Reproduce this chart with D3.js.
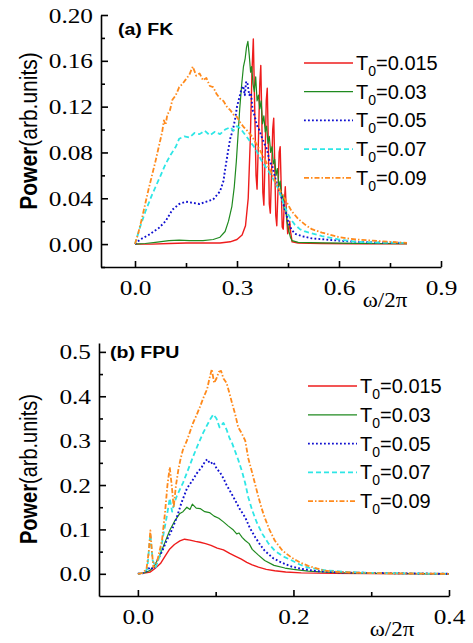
<!DOCTYPE html>
<html>
<head>
<meta charset="utf-8">
<script src="https://cdn.jsdelivr.net/npm/d3@7"></script>
<style>
  body { margin: 0; background: #fff; }
  svg { display: block; }
  .axis path, .axis line { stroke: #000; stroke-width: 1.6; }
  .curve { fill: none; stroke-linejoin: round; }
</style>
</head>
<body>
<div id="chart"></div>
<script>
// ---- data: [omega/2pi, power] ----
const legendLabels = ["0.015", "0.03", "0.05", "0.07", "0.09"];

const fkX = [0.0, 0.3, 0.6, 0.9];
const fkXMinor = [0.15, 0.45, 0.75];
const fkY = [0.00, 0.04, 0.08, 0.12, 0.16, 0.20];
const fkYMinor = [-0.02, 0.02, 0.06, 0.10, 0.14, 0.18];

const fpuX = [0.0, 0.2, 0.4];
const fpuXMinor = [0.1, 0.3];
const fpuY = [0.0, 0.1, 0.2, 0.3, 0.4, 0.5];
const fpuYMinor = [0.05, 0.15, 0.25, 0.35, 0.45];

const fk015 = [[0,0],[0.05,0],[0.1,0.0005],[0.15,0.001],[0.2,0.001],[0.25,0.001],[0.28,0.002],[0.30,0.004],[0.315,0.008],
  [0.325,0.016],[0.333,0.04],[0.339,0.09],[0.344,0.15],[0.348,0.179],[0.352,0.12],[0.356,0.06],[0.359,0.048],[0.363,0.09],
  [0.367,0.14],[0.370,0.156],[0.373,0.11],[0.376,0.045],[0.379,0.034],[0.383,0.08],[0.386,0.125],[0.389,0.136],[0.392,0.09],
  [0.395,0.035],[0.398,0.027],[0.402,0.065],[0.405,0.1],[0.408,0.11],[0.411,0.07],[0.414,0.025],[0.417,0.016],[0.421,0.05],
  [0.424,0.08],[0.427,0.085],[0.430,0.05],[0.433,0.015],[0.436,0.013],[0.439,0.035],[0.442,0.05],[0.445,0.03],[0.449,0.009],
  [0.452,0.012],[0.455,0.02],[0.458,0.01],[0.462,0.002],[0.48,0.001],[0.55,0.0005],[0.65,0.0003],[0.8,0.0002]];

const fk03 = [[0,0],[0.03,0.0005],[0.06,0.0015],[0.1,0.003],[0.13,0.0035],[0.16,0.003],[0.2,0.003],[0.23,0.004],[0.25,0.006],
  [0.265,0.011],[0.275,0.02],[0.285,0.033],[0.292,0.05],[0.298,0.072],[0.303,0.095],[0.308,0.118],[0.314,0.14],[0.319,0.155],
  [0.324,0.162],[0.328,0.172],[0.332,0.177],[0.336,0.165],[0.340,0.15],[0.343,0.155],[0.347,0.14],[0.351,0.133],[0.355,0.146],
  [0.359,0.125],[0.363,0.13],[0.367,0.118],[0.371,0.125],[0.375,0.105],[0.379,0.112],[0.383,0.098],[0.387,0.103],[0.391,0.088],
  [0.395,0.094],[0.399,0.08],[0.403,0.085],[0.407,0.07],[0.411,0.074],[0.415,0.06],[0.419,0.066],[0.423,0.05],[0.427,0.055],
  [0.431,0.04],[0.435,0.043],[0.439,0.03],[0.443,0.032],[0.447,0.02],[0.452,0.012],[0.457,0.006],[0.462,0.003],[0.48,0.0015],
  [0.55,0.001],[0.65,0.0006],[0.8,0.0003]];

const fk05 = [[0,0],[0.015,0.004],[0.04,0.008],[0.07,0.014],[0.09,0.02],[0.11,0.03],[0.13,0.035],[0.15,0.037],[0.17,0.036],
  [0.19,0.035],[0.21,0.037],[0.23,0.039],[0.25,0.046],[0.26,0.055],[0.265,0.065],[0.272,0.078],[0.28,0.092],[0.288,0.1],
  [0.295,0.11],[0.30,0.12],[0.307,0.128],[0.313,0.135],[0.318,0.138],[0.323,0.13],[0.327,0.142],[0.331,0.14],[0.336,0.13],
  [0.341,0.132],[0.346,0.117],[0.352,0.112],[0.358,0.104],[0.365,0.1],[0.372,0.094],[0.38,0.088],[0.388,0.083],[0.396,0.072],
  [0.404,0.068],[0.412,0.058],[0.42,0.05],[0.428,0.044],[0.436,0.035],[0.444,0.027],[0.452,0.018],[0.46,0.013],[0.47,0.009],
  [0.49,0.007],[0.52,0.005],[0.56,0.004],[0.6,0.003],[0.65,0.002],[0.7,0.0015],[0.8,0.001]];

const fk07 = [[0,0],[0.015,0.015],[0.03,0.028],[0.05,0.043],[0.074,0.059],[0.09,0.07],[0.105,0.078],[0.12,0.085],[0.13,0.092],
  [0.145,0.094],[0.16,0.093],[0.175,0.097],[0.19,0.096],[0.205,0.099],[0.22,0.095],[0.235,0.098],[0.25,0.096],[0.265,0.1],
  [0.28,0.102],[0.29,0.099],[0.3,0.103],[0.31,0.101],[0.32,0.097],[0.33,0.093],[0.34,0.089],[0.35,0.085],[0.36,0.08],
  [0.37,0.074],[0.38,0.069],[0.39,0.065],[0.40,0.06],[0.41,0.055],[0.42,0.049],[0.43,0.041],[0.44,0.033],[0.45,0.026],
  [0.46,0.021],[0.47,0.017],[0.485,0.013],[0.5,0.011],[0.55,0.007],[0.6,0.004],[0.65,0.002],[0.7,0.0015],[0.8,0.001]];

const fk09 = [[0,0],[0.01,0.01],[0.02,0.022],[0.03,0.035],[0.04,0.048],[0.05,0.06],[0.06,0.072],[0.07,0.085],[0.08,0.098],
  [0.085,0.108],[0.09,0.104],[0.095,0.113],[0.103,0.117],[0.11,0.126],[0.12,0.13],[0.13,0.137],[0.14,0.14],[0.15,0.144],
  [0.16,0.148],[0.17,0.155],[0.18,0.147],[0.19,0.149],[0.2,0.143],[0.21,0.145],[0.22,0.138],[0.23,0.137],[0.24,0.131],
  [0.25,0.127],[0.26,0.125],[0.27,0.12],[0.28,0.117],[0.29,0.113],[0.3,0.111],[0.31,0.106],[0.32,0.102],[0.33,0.099],
  [0.344,0.094],[0.36,0.086],[0.38,0.075],[0.4,0.063],[0.42,0.05],[0.44,0.04],[0.46,0.029],[0.48,0.022],[0.5,0.017],
  [0.52,0.013],[0.55,0.01],[0.6,0.006],[0.65,0.004],[0.7,0.003],[0.75,0.002],[0.8,0.001]];

const fpu015 = [[0,0],[0.005,0.001],[0.01,0.002],[0.016,0.004],[0.022,0.012],[0.029,0.023],[0.035,0.04],[0.041,0.056],
  [0.047,0.066],[0.054,0.074],[0.06,0.078],[0.067,0.076],[0.074,0.073],[0.08,0.071],[0.087,0.068],[0.094,0.064],[0.102,0.058],
  [0.11,0.054],[0.118,0.046],[0.125,0.04],[0.133,0.033],[0.14,0.026],[0.147,0.02],[0.155,0.015],[0.165,0.01],[0.176,0.007],
  [0.19,0.004],[0.21,0.002],[0.25,0.001],[0.3,0.0005],[0.4,0]];

const fpu03 = [[0,0],[0.005,0.001],[0.01,0.003],[0.016,0.008],[0.022,0.02],[0.029,0.045],[0.035,0.072],[0.041,0.098],
  [0.047,0.118],[0.054,0.136],[0.058,0.14],[0.063,0.15],[0.067,0.145],[0.07,0.157],[0.075,0.148],[0.08,0.147],[0.086,0.14],
  [0.092,0.138],[0.098,0.13],[0.104,0.125],[0.11,0.117],[0.116,0.108],[0.122,0.1],[0.127,0.09],[0.13,0.092],[0.134,0.082],
  [0.138,0.075],[0.143,0.068],[0.147,0.055],[0.155,0.042],[0.163,0.03],[0.175,0.019],[0.189,0.013],[0.2,0.01],[0.219,0.006],
  [0.25,0.003],[0.3,0.001],[0.4,0]];

const fpu05 = [[0,0],[0.008,0.002],[0.016,0.015],[0.02,0.01],[0.025,0.03],[0.031,0.05],[0.037,0.075],[0.044,0.1],[0.05,0.127],
  [0.056,0.16],[0.063,0.192],[0.07,0.21],[0.076,0.227],[0.082,0.24],[0.086,0.252],[0.089,0.258],[0.093,0.248],[0.097,0.252],
  [0.101,0.238],[0.106,0.227],[0.11,0.215],[0.114,0.2],[0.119,0.185],[0.125,0.166],[0.131,0.146],[0.138,0.127],[0.144,0.103],
  [0.151,0.082],[0.157,0.066],[0.163,0.052],[0.174,0.035],[0.185,0.025],[0.198,0.016],[0.211,0.011],[0.23,0.006],[0.26,0.003],
  [0.3,0.002],[0.35,0.001],[0.4,0]];

const fpu07 = [[0,0],[0.006,0.002],[0.012,0.01],[0.016,0.09],[0.019,0.03],[0.023,0.015],[0.028,0.04],[0.033,0.09],[0.037,0.128],
  [0.041,0.17],[0.044,0.14],[0.047,0.16],[0.05,0.175],[0.054,0.19],[0.058,0.205],[0.064,0.232],[0.071,0.264],[0.077,0.29],
  [0.084,0.318],[0.089,0.335],[0.093,0.348],[0.097,0.359],[0.101,0.35],[0.105,0.33],[0.11,0.34],[0.114,0.325],[0.118,0.305],
  [0.121,0.295],[0.125,0.276],[0.129,0.257],[0.134,0.23],[0.138,0.204],[0.142,0.172],[0.147,0.143],[0.153,0.115],[0.16,0.09],
  [0.168,0.068],[0.176,0.052],[0.187,0.039],[0.198,0.03],[0.208,0.021],[0.219,0.014],[0.24,0.008],[0.27,0.004],[0.3,0.002],
  [0.35,0.001],[0.4,0]];

const fpu09 = [[0,0],[0.006,0.002],[0.011,0.01],[0.014,0.05],[0.016,0.098],[0.018,0.05],[0.02,0.014],[0.025,0.03],[0.031,0.075],
  [0.035,0.14],[0.038,0.2],[0.041,0.24],[0.044,0.19],[0.046,0.15],[0.049,0.2],[0.052,0.234],[0.055,0.26],[0.058,0.28],
  [0.063,0.3],[0.067,0.32],[0.071,0.34],[0.076,0.36],[0.08,0.377],[0.085,0.4],[0.089,0.416],[0.092,0.44],[0.095,0.461],
  [0.098,0.43],[0.101,0.44],[0.104,0.455],[0.107,0.457],[0.11,0.44],[0.114,0.43],[0.118,0.405],[0.121,0.385],[0.125,0.36],
  [0.129,0.33],[0.133,0.318],[0.138,0.3],[0.142,0.26],[0.147,0.227],[0.151,0.2],[0.155,0.173],[0.159,0.148],[0.163,0.127],
  [0.169,0.1],[0.176,0.075],[0.186,0.052],[0.198,0.036],[0.209,0.025],[0.219,0.018],[0.23,0.012],[0.24,0.007],[0.26,0.004],
  [0.29,0.002],[0.33,0.001],[0.4,0]];

// line styles per temperature
const styles = [
  { color: "#ee1c1c", dash: null, width: 1.4 },
  { color: "#1f8a1f", dash: null, width: 1.2 },
  { color: "#1010d0", dash: "1.8,2.2", width: 1.9 },
  { color: "#2ee6e6", dash: "5,3", width: 1.8 },
  { color: "#ff8a1c", dash: "5,2,1.5,2", width: 1.8 }
];

const serif = "'Liberation Serif', 'Times New Roman', serif";
const sans = "'Liberation Sans', Arial, sans-serif";

const svg = d3.select("#chart").append("svg")
  .attr("width", 473)
  .attr("height", 643);

const stretch = 1.15;

function drawPanel(cfg) {
  const x = d3.scaleLinear().domain(cfg.xDomain).range(cfg.xRange);
  const y = d3.scaleLinear().domain(cfg.yDomain).range(cfg.yRange);
  const g = svg.append("g");

  // minor ticks
  g.append("g").attr("class", "axis")
    .attr("transform", `translate(0,${cfg.yRange[0]})`)
    .call(d3.axisBottom(x).tickValues(cfg.xMinor).tickSize(-4).tickSizeOuter(0).tickFormat(""))
    .select(".domain").remove();
  g.append("g").attr("class", "axis")
    .attr("transform", `translate(${cfg.xRange[0]},0)`)
    .call(d3.axisLeft(y).tickValues(cfg.yMinor).tickSize(-4).tickSizeOuter(0).tickFormat(""))
    .select(".domain").remove();

  // major axes
  const xg = g.append("g").attr("class", "axis")
    .attr("transform", `translate(0,${cfg.yRange[0]})`)
    .call(d3.axisBottom(x).tickValues(cfg.xTicks).tickSize(-6).tickSizeOuter(0).tickPadding(12).tickFormat(cfg.xFmt));
  xg.selectAll("text")
    .attr("font-family", serif)
    .attr("font-size", 22)
    .attr("fill", "#000")
    .attr("transform", `scale(${stretch},1)`);

  const yg = g.append("g").attr("class", "axis")
    .attr("transform", `translate(${cfg.xRange[0]},0)`)
    .call(d3.axisLeft(y).tickValues(cfg.yTicks).tickSize(-7).tickSizeOuter(0).tickPadding(8).tickFormat(cfg.yFmt));
  yg.selectAll("text")
    .attr("font-family", serif)
    .attr("font-size", 22)
    .attr("fill", "#000")
    .attr("x", -8 / stretch)
    .attr("transform", `scale(${stretch},1)`);

  // curves
  const line = d3.line().x(d => x(d[0])).y(d => y(d[1]));
  cfg.series.forEach((s, i) => {
    g.append("path")
      .datum(s)
      .attr("class", "curve")
      .attr("d", line)
      .attr("stroke", styles[i].color)
      .attr("stroke-width", styles[i].width)
      .attr("stroke-dasharray", styles[i].dash);
  });

  // panel label
  g.append("text")
    .attr("transform", `translate(${cfg.tag[0]},${cfg.tag[1]}) scale(${stretch},1)`)
    .attr("font-family", sans)
    .attr("font-weight", "bold")
    .attr("font-size", 17)
    .text(cfg.tagText);

  // y label
  const yl = g.append("text")
    .attr("transform", `translate(37,${cfg.yLabelY}) rotate(-90) scale(1,${stretch})`)
    .attr("text-anchor", "middle")
    .attr("font-family", sans)
    .attr("font-size", cfg.yLabelSize);
  yl.append("tspan").attr("font-weight", "bold").text("Power");
  yl.append("tspan").text("(arb.units)");

  // x label
  g.append("text")
    .attr("transform", `translate(${cfg.xLabel[0]},${cfg.xLabel[1]}) scale(${stretch},1)`)
    .attr("text-anchor", "middle")
    .attr("font-family", serif)
    .attr("font-size", 20)
    .text("ω/2π");

  // legend
  const leg = g.append("g");
  legendLabels.forEach((lab, i) => {
    const ly = cfg.legend.y0 + i * cfg.legend.dy;
    leg.append("line")
      .attr("x1", cfg.legend.x0).attr("x2", cfg.legend.x0 + 49)
      .attr("y1", ly).attr("y2", ly)
      .attr("stroke", styles[i].color)
      .attr("stroke-width", styles[i].width)
      .attr("stroke-dasharray", styles[i].dash);
    const t = leg.append("text")
      .attr("x", cfg.legend.x0 + 52)
      .attr("y", ly + 7)
      .attr("font-family", sans)
      .attr("font-size", 20);
    t.append("tspan").text("T");
    t.append("tspan").attr("font-size", 14).attr("dy", 6).text("0");
    t.append("tspan").attr("dy", -6).text("=" + lab);
  });
}

drawPanel({
  xDomain: [-0.1, 0.9], xRange: [101, 441],
  yDomain: [-0.02, 0.2], yRange: [267, 15],
  xTicks: fkX, xMinor: fkXMinor, yTicks: fkY, yMinor: fkYMinor,
  xFmt: d3.format(".1f"), yFmt: d3.format(".2f"),
  series: [fk015, fk03, fk05, fk07, fk09],
  tag: [118, 35], tagText: "(a) FK",
  yLabelY: 131, yLabelSize: 21,
  xLabel: [385, 307],
  legend: { x0: 304, y0: 63, dy: 28.7 }
});

drawPanel({
  xDomain: [-0.05, 0.4], xRange: [99, 449],
  yDomain: [-0.05, 0.52], yRange: [596, 343],
  xTicks: fpuX, xMinor: fpuXMinor, yTicks: fpuY, yMinor: fpuYMinor,
  xFmt: d3.format(".1f"), yFmt: d3.format(".1f"),
  series: [fpu015, fpu03, fpu05, fpu07, fpu09],
  tag: [110, 358], tagText: "(b) FPU",
  yLabelY: 469, yLabelSize: 20,
  xLabel: [392, 636],
  legend: { x0: 308, y0: 386, dy: 28.8 }
});
</script>
</body>
</html>
